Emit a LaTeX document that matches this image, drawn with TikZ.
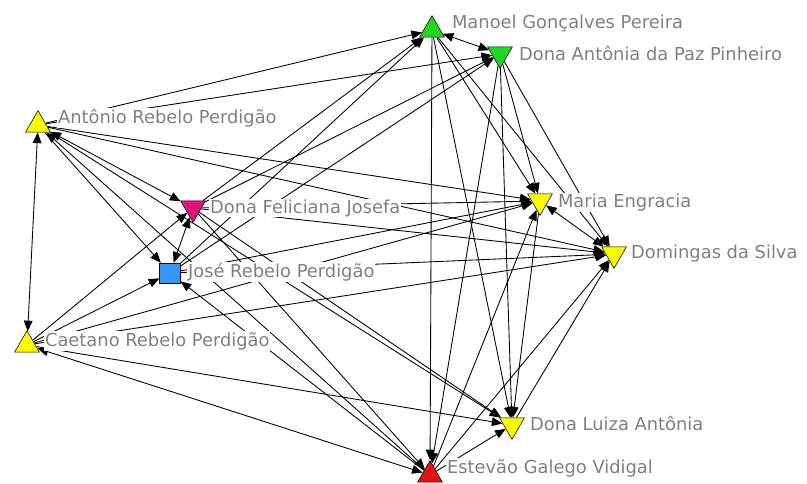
\documentclass[tikz,border=0pt]{standalone}
\usepackage{fontspec}
\setmainfont{DejaVu Sans}
\usetikzlibrary{shapes.geometric,arrows.meta}
\definecolor{lblgray}{RGB}{128,128,128}
\definecolor{ngreen}{RGB}{30,215,30}
\definecolor{nyellow}{RGB}{250,250,0}
\definecolor{npink}{RGB}{225,20,120}
\definecolor{nblue}{RGB}{50,150,250}
\definecolor{nred}{RGB}{228,18,18}
\pgfdeclarelayer{back}
\pgfdeclarelayer{links}
\pgfdeclarelayer{names}
\pgfsetlayers{back,links,names,main}
\tikzset{
  actor/.style={draw=black, line width=0.4pt, inner sep=0pt},
  tri/.style={actor, regular polygon, regular polygon sides=3, minimum size=21.5pt},
  trid/.style={tri, shape border rotate=180},
  sq/.style={actor, rectangle, minimum width=15.5pt, minimum height=15pt},
  lbl/.style={anchor=base west, text=lblgray, fill=white, inner sep=0.6pt,
              font=\fontsize{13.4pt}{15pt}\selectfont},
  tip/.tip={Triangle[length=8pt,width=6.5pt]},
  arr/.style={-tip, line width=0.65pt},
  bi/.style={tip-tip, line width=0.65pt},
}
\begin{document}
\begin{tikzpicture}[x=0.75pt,y=-0.75pt]
\begin{pgfonlayer}{back}
  \fill[white] (0,0) rectangle (807,483);
\end{pgfonlayer}
\useasboundingbox (0,0) rectangle (807,483);

% actors
\node[tri,  fill=ngreen]  (M)  at (432,30)  {};
\node[trid, fill=ngreen]  (D)  at (500,54)  {};
\node[tri,  fill=nyellow] (A)  at (38,125)  {};
\node[trid, fill=npink]   (F)  at (193,208) {};
\node[sq,   fill=nblue]   (J)  at (170,273) {};
\node[tri,  fill=nyellow] (C)  at (27,345)  {};
\node[trid, fill=nyellow] (ME) at (540,201) {};
\node[trid, fill=nyellow] (DS) at (614,254) {};
\node[trid, fill=nyellow] (L)  at (512,425) {};
\node[tri,  fill=nred]    (E)  at (430,475) {};

% names
\begin{pgfonlayer}{names}
\node[lbl] (lM)  at (451,28)  {Manoel Gonçalves Pereira};
\node[lbl] (lD)  at (518,60)  {Dona Antônia da Paz Pinheiro};
\node[lbl] (lA)  at (57,123)  {Antônio Rebelo Perdigão};
\node[lbl] (lF)  at (209,213) {Dona Feliciana Josefa};
\node[lbl] (lJ)  at (187,277) {José Rebelo Perdigão};
\node[lbl] (lC)  at (44,346)  {Caetano Rebelo Perdigão};
\node[lbl] (lME) at (557,207) {Maria Engracia};
\node[lbl] (lDS) at (630,258) {Domingas da Silva};
\node[lbl] (lL)  at (529,430) {Dona Luiza Antônia};
\node[lbl] (lE)  at (446,473) {Estevão Galego Vidigal};
\end{pgfonlayer}

% ties
\begin{pgfonlayer}{links}
\foreach \src/\dst in {M/D, A/C, A/F, F/J, ME/DS, C/E}
  \draw[bi] (\src) -- (\dst);
\foreach \src/\dst in {A/M, A/D, A/ME, A/DS, A/L, A/J,
                       F/M, F/D, F/ME, F/DS, F/E, F/L,
                       J/M, J/D, J/ME, J/DS,
                       C/F, C/J, C/ME, C/DS, C/L,
                       M/E, M/ME, M/DS, M/L,
                       D/ME, D/DS, D/L, D/E,
                       ME/L, E/ME, E/DS, E/L, L/DS, E/J, E/A}
  \draw[arr] (\src) -- (\dst);
\end{pgfonlayer}
\end{tikzpicture}
\end{document}
